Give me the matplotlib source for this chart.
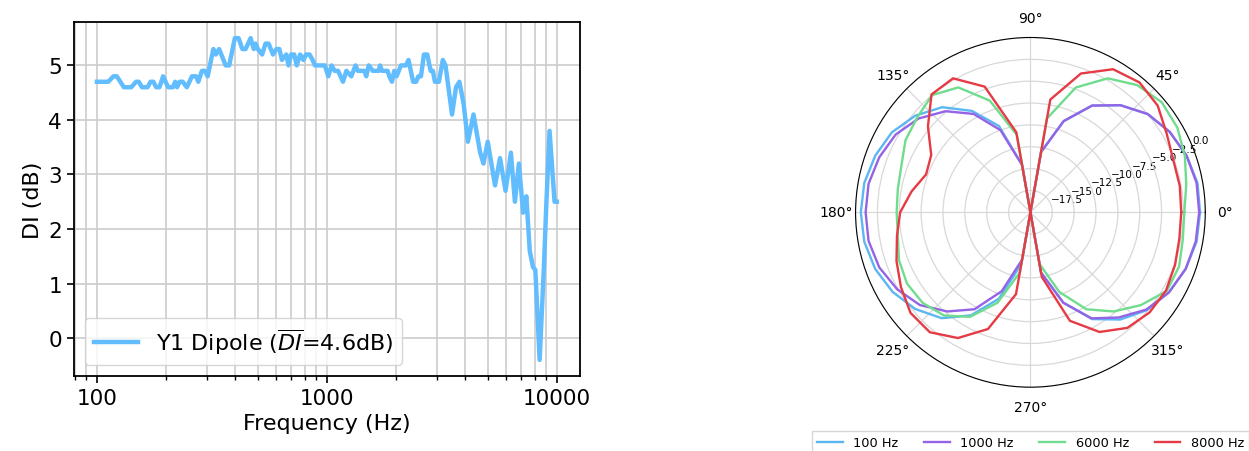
import numpy as np
import matplotlib
matplotlib.use("Agg")
import matplotlib.pyplot as plt

# ---- directivity index (left) ----
freq_hz = [100, 112, 118, 122, 131, 141, 148, 152, 157, 166, 171, 176, 181, 187,
           194, 204, 214, 219, 223, 229, 236, 246, 259, 270, 276, 286, 295, 303,
           321, 329, 340, 363, 376, 398, 413, 429, 443, 466, 481, 490, 501, 523,
           541, 558, 583, 603, 621, 638, 666, 681, 699, 721, 740, 765, 791, 811,
           841, 867, 887, 980, 1014, 1048, 1082, 1119, 1175, 1216, 1277, 1333,
           1364, 1458, 1483, 1521, 1585, 1680, 1703, 1738, 1837, 1869, 1919,
           1964, 2010, 2099, 2207, 2265, 2373, 2444, 2500, 2566, 2644, 2733,
           2827, 2892, 2951, 3070, 3194, 3281, 3503, 3645, 3770, 3933, 4106,
           4343, 4643, 4798, 5008, 5387, 5664, 5986, 6314, 6574, 6843, 7135,
           7373, 7627, 7880, 8066, 8421, 8790, 8994, 9300, 9780, 10000]
di_db = [4.7, 4.7, 4.8, 4.8, 4.6, 4.6, 4.7, 4.7, 4.6, 4.6, 4.7, 4.7, 4.6, 4.6,
         4.8, 4.6, 4.6, 4.7, 4.6, 4.7, 4.7, 4.6, 4.8, 4.8, 4.7, 4.9, 4.9, 4.8,
         5.3, 5.2, 5.3, 5.0, 5.0, 5.5, 5.5, 5.3, 5.3, 5.5, 5.3, 5.4, 5.3, 5.2,
         5.4, 5.4, 5.2, 5.3, 5.3, 5.1, 5.2, 5.0, 5.2, 5.2, 5.0, 5.2, 5.1, 5.2,
         5.2, 5.1, 5.0, 5.0, 4.8, 5.0, 4.9, 4.9, 4.7, 4.9, 4.8, 5.0,
         4.9, 4.9, 4.8, 5.0, 4.9, 4.9, 5.0, 4.9, 4.9, 4.8, 4.7,
         4.9, 4.8, 5.0, 5.0, 5.1, 4.7, 4.7, 4.8, 4.8, 5.2, 5.2,
         4.9, 4.9, 4.7, 4.7, 5.1, 5.0, 4.1, 4.6, 4.7, 4.3, 3.6,
         4.1, 3.4, 3.2, 3.6, 2.8, 3.3, 2.7, 3.4, 2.5, 3.2, 2.3,
         2.6, 1.6, 1.3, 1.25, -0.4, 1.3, 2.4, 3.8, 2.5, 2.5]
di_mean = 4.6

# ---- polar response (right), dB per 10 degrees ----
angles_deg = list(range(0, 361, 10))
resp_100 = [-0.6, -0.6, -1.0, -1.6, -2.5, -4.0, -5.9, -8.9, -13.0, -20.0,
            -14.5, -9.5, -6.6, -4.3, -2.8, -1.7, -1.1, -0.7, -0.6,
            -0.7, -1.1, -1.8, -2.8, -4.2, -6.4, -9.5, -14.0, -20.0,
            -13.0, -9.0, -5.9, -4.0, -2.6, -1.7, -1.1, -0.7, -0.6]
resp_1000 = [-0.7, -0.7, -1.0, -1.6, -2.5, -4.0, -5.9, -8.9, -13.0, -20.0,
             -14.5, -10.0, -7.0, -4.9, -3.3, -2.2, -1.6, -1.2, -1.15,
             -1.2, -1.6, -2.4, -3.5, -5.2, -7.2, -10.4, -14.5, -20.0,
             -13.0, -9.0, -6.0, -4.3, -2.7, -1.7, -1.1, -0.8, -0.7]
resp_6000 = [-2.4, -1.9, -1.2, -0.6, -0.4, -1.0, -2.3, -4.8, -9.1, -20.0,
             -11.0, -6.4, -3.5, -2.5, -3.1, -3.5, -4.3, -4.6, -4.7,
             -4.6, -4.0, -3.7, -3.9, -4.6, -6.2, -9.0, -13.0, -20.0,
             -14.0, -10.3, -7.2, -5.2, -3.5, -2.0, -1.9, -2.3, -2.4]
resp_8000 = [-2.75, -2.65, -2.6, -2.0, -1.0, -0.6, -1.1, -3.1, -6.9, -20.0,
             -10.7, -4.7, -2.3, -2.4, -4.7, -6.9, -7.3, -6.2, -5.1,
             -4.5, -3.7, -2.9, -2.1, -2.1, -3.4, -5.8, -10.5, -20.0,
             -12.5, -6.8, -4.2, -2.75, -2.2, -2.1, -2.4, -2.7, -2.75]
polar_labels = ["100 Hz", "1000 Hz", "6000 Hz", "8000 Hz"]
polar_colors = ["#5cb6f2", "#9463e6", "#6fdc8e", "#e63a44"]

fig = plt.figure(figsize=(12.49, 4.52), dpi=100)
fig.patch.set_facecolor("#ffffff")

# left axes
ax = fig.add_axes([0.0592, 0.166, 0.405, 0.783])
ax.semilogx(freq_hz, di_db, color="#62bdff", linewidth=3.2,
            label=r"Y1 Dipole ($\overline{DI}$=%.1fdB)" % di_mean)
ax.grid(True, which="both", color="#cccccc", linewidth=1.2)
ax.set_axisbelow(True)
ax.set_xticks([100, 1000, 10000])
ax.set_xticklabels(["100", "1000", "10000"])
ax.set_xlabel("Frequency (Hz)", fontsize=16)
ax.set_ylabel("DI (dB)", fontsize=16)
ax.tick_params(axis="both", which="major", labelsize=15.5, length=5, width=1.2)
ax.tick_params(axis="x", which="minor", length=3, width=1.0)
for spine in ax.spines.values():
    spine.set_linewidth(1.3)
    spine.set_color("black")
ax.legend(loc="lower left", fontsize=16, framealpha=0.8)

# right polar axes
pax = fig.add_axes([0.685, 0.141, 0.280, 0.774], projection="polar")
theta = np.deg2rad(angles_deg)
for resp, lab, col in zip([resp_100, resp_1000, resp_6000, resp_8000],
                          polar_labels, polar_colors):
    pax.plot(theta, resp, color=col, linewidth=1.7, label=lab)
pax.set_rlim(-20, 0)
pax.set_rticks([-17.5, -15.0, -12.5, -10.0, -7.5, -5.0, -2.5, 0.0])
pax.tick_params(axis="y", labelsize=7.5)
pax.tick_params(axis="x", labelsize=10)
pax.grid(True, color="#d8d8d8", linewidth=0.9)
pax.legend(loc="upper center", bbox_to_anchor=(0.5, -0.125), ncol=4,
           fontsize=9.3, frameon=True, fancybox=False, borderaxespad=0)

fig.savefig("out.png", dpi=100)
